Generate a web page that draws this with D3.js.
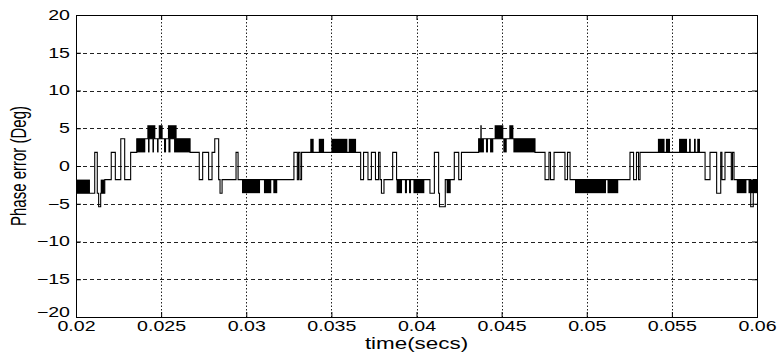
<!DOCTYPE html>
<html>
<head>
<meta charset="utf-8">
<script src="https://cdn.jsdelivr.net/npm/d3@7"></script>
<style>
  body { margin: 0; background: #fff; }
  text { font-family: "Liberation Sans", Arial, sans-serif; fill: #000; }
</style>
</head>
<body>
<div id="chart"></div>
<script>
// axis ticks
const xTicks = [0.02, 0.025, 0.03, 0.035, 0.04, 0.045, 0.05, 0.055, 0.06];
const yTicks = [-20, -15, -10, -5, 0, 5, 10, 15, 20];

// phase error steps: [time, level] — level holds until the next entry
const steps = [
  [0.02000, -3.6], [0.02110, 1.8], [0.02125, -3.6], [0.02133, -5.4], [0.02145, -3.6],
  [0.02169, -1.8], [0.02207, 1.8], [0.02231, -1.8], [0.02263, 3.6], [0.02286, -1.8],
  [0.02321, 1.8], [0.02357, 3.6], [0.02670, 1.8], [0.02724, -1.8], [0.02744, 1.8],
  [0.02779, -1.8], [0.02799, 1.8], [0.02815, 3.6], [0.02838, -1.8], [0.02846, -3.6],
  [0.02858, -1.8], [0.02940, 1.8], [0.02952, -1.8], [0.03280, 1.8], [0.03300, -1.8],
  [0.03307, 1.8], [0.03316, -1.8], [0.03325, 1.8], [0.03672, -1.8], [0.03689, 1.8],
  [0.03715, -1.8], [0.03735, 1.8], [0.03759, -1.8], [0.03777, 1.8], [0.03786, -1.8],
  [0.03794, -3.6], [0.03809, -1.8], [0.03860, 1.8], [0.03883, -1.8], [0.04079, -3.6],
  [0.04105, 1.8], [0.04130, -3.6], [0.04135, -5.4], [0.04169, -1.8], [0.04222, 1.8],
  [0.04248, -1.8], [0.04264, 1.8], [0.04365, 3.6], [0.04696, 1.8], [0.04755, -1.8],
  [0.04778, 1.8], [0.04787, -1.8], [0.04808, 1.8], [0.04872, -1.8], [0.04887, 1.8],
  [0.04902, -1.8], [0.05254, 1.8], [0.05275, -1.8], [0.05292, 1.8], [0.05304, -1.8],
  [0.05313, 1.8], [0.05695, -1.8], [0.05724, 1.8], [0.05763, -3.6], [0.05787, 1.8],
  [0.05794, -1.8], [0.05812, 1.8], [0.05849, -1.8], [0.05856, 1.8], [0.05865, -1.8],
  [0.05963, -5.4], [0.05978, -1.8], [0.06000, -1.8]
];

// fast chattering between two adjacent levels (draws as solid black): [t0, t1, lo, hi]
const chatter = [
  [0.02000, 0.02082, -3.6, -1.8], [0.02145, 0.02169, -3.6, -1.8],
  [0.02357, 0.02407, 1.8, 3.6], [0.02423, 0.02432, 1.8, 3.6], [0.02449, 0.02458, 1.8, 3.6],
  [0.02476, 0.02485, 1.8, 3.6], [0.02517, 0.02529, 1.8, 3.6], [0.02543, 0.02555, 1.8, 3.6],
  [0.02576, 0.02670, 1.8, 3.6],
  [0.02419, 0.02466, 3.6, 5.4], [0.02486, 0.02509, 3.6, 5.4], [0.02540, 0.02591, 3.6, 5.4],
  [0.02975, 0.03081, -3.6, -1.8], [0.03104, 0.03147, -3.6, -1.8], [0.03159, 0.03182, -3.6, -1.8],
  [0.03376, 0.03396, 1.8, 3.6], [0.03426, 0.03457, 1.8, 3.6], [0.03500, 0.03594, 1.8, 3.6],
  [0.03602, 0.03645, 1.8, 3.6],
  [0.03883, 0.03915, -3.6, -1.8], [0.03932, 0.03944, -3.6, -1.8], [0.03956, 0.03968, -3.6, -1.8],
  [0.03982, 0.04046, -3.6, -1.8], [0.04177, 0.04201, -3.6, -1.8],
  [0.04365, 0.04396, 1.8, 3.6], [0.04408, 0.04420, 1.8, 3.6], [0.04432, 0.04451, 1.8, 3.6],
  [0.04510, 0.04530, 1.8, 3.6], [0.04569, 0.04696, 1.8, 3.6],
  [0.04375, 0.04383, 3.6, 5.4], [0.04459, 0.04510, 3.6, 5.4], [0.04545, 0.04569, 3.6, 5.4],
  [0.04931, 0.05113, -3.6, -1.8], [0.05122, 0.05185, -3.6, -1.8],
  [0.05418, 0.05457, 1.8, 3.6], [0.05465, 0.05489, 1.8, 3.6], [0.05542, 0.05589, 1.8, 3.6],
  [0.05601, 0.05611, 1.8, 3.6], [0.05630, 0.05640, 1.8, 3.6], [0.05649, 0.05665, 1.8, 3.6],
  [0.05881, 0.05938, -3.6, -1.8], [0.05950, 0.06000, -3.6, -1.8]
];

const width = 777, height = 352;
const margin = { top: 15, right: 20, bottom: 35, left: 76 };
const iw = width - margin.left - margin.right;
const ih = height - margin.top - margin.bottom;
const stretch = 1.4; // the original image text is widened horizontally

const svg = d3.select('#chart').append('svg')
  .attr('width', width)
  .attr('height', height);

const g = svg.append('g').attr('transform', `translate(${margin.left},${margin.top})`);

const x = d3.scaleLinear().domain([0.02, 0.06]).range([0, iw]);
const y = d3.scaleLinear().domain([-20, 20]).range([ih, 0]);

// grid
g.append('g').selectAll('line')
  .data(yTicks.slice(1, -1))
  .enter().append('line')
  .attr('x1', 0).attr('x2', iw)
  .attr('y1', d => Math.round(y(d)) + 0.5).attr('y2', d => Math.round(y(d)) + 0.5)
  .attr('stroke', '#222').attr('stroke-dasharray', '4,3');

g.append('g').selectAll('line')
  .data(xTicks.slice(1, -1))
  .enter().append('line')
  .attr('x1', d => Math.round(x(d)) + 0.5).attr('x2', d => Math.round(x(d)) + 0.5)
  .attr('y1', 0).attr('y2', ih)
  .attr('stroke', '#222').attr('stroke-dasharray', '1.5,2');

// chatter blocks
g.append('g').selectAll('rect')
  .data(chatter)
  .enter().append('rect')
  .attr('x', d => x(d[0]))
  .attr('width', d => x(d[1]) - x(d[0]))
  .attr('y', d => y(d[3]))
  .attr('height', d => y(d[2]) - y(d[3]))
  .attr('fill', '#000');

// step signal
const line = d3.line()
  .x(d => x(d[0]))
  .y(d => y(d[1]))
  .curve(d3.curveStepAfter);

g.append('path')
  .datum(steps)
  .attr('d', line)
  .attr('fill', 'none')
  .attr('stroke', '#000')
  .attr('stroke-width', 1.1);

// frame + inward ticks
const axisFont = sel => sel.selectAll('text')
  .style('font-size', '14px')
  .attr('transform', `scale(${stretch},1)`);

g.append('g').attr('transform', `translate(0,${ih})`)
  .call(d3.axisBottom(x).tickValues(xTicks).tickSize(-5).tickPadding(4).tickFormat(d3.format('')))
  .call(axisFont);
g.append('g')
  .call(d3.axisTop(x).tickValues(xTicks).tickSize(-5).tickFormat(''));
const yAxis = g.append('g')
  .call(d3.axisLeft(y).tickValues(yTicks).tickSize(-5).tickPadding(4.3))
  .call(axisFont);
g.append('g').attr('transform', `translate(${iw},0)`)
  .call(d3.axisRight(y).tickValues(yTicks).tickSize(-5).tickFormat(''));

// lowest y label sits a little higher, just above the 0.02 label
yAxis.selectAll('.tick').filter(d => d === -20).select('text').attr('dy', '-0.05em');

g.selectAll('.domain').remove();
g.selectAll('.tick line').attr('stroke', '#000');
g.selectAll('.tick text').attr('fill', '#000');

g.append('rect')
  .attr('x', 0.5).attr('y', 0.5)
  .attr('width', iw).attr('height', ih)
  .attr('fill', 'none').attr('stroke', '#000');

// labels
svg.append('text')
  .attr('transform', `translate(${margin.left + iw / 2},${height - 3}) scale(${stretch},1)`)
  .attr('text-anchor', 'middle')
  .style('font-size', '16px')
  .text('time(secs)');

svg.append('text')
  .attr('transform', `translate(26,${margin.top + ih / 2}) scale(1.5,1) rotate(-90)`)
  .attr('text-anchor', 'middle')
  .style('font-size', '15px')
  .text('Phase error (Deg)');
</script>
</body>
</html>
